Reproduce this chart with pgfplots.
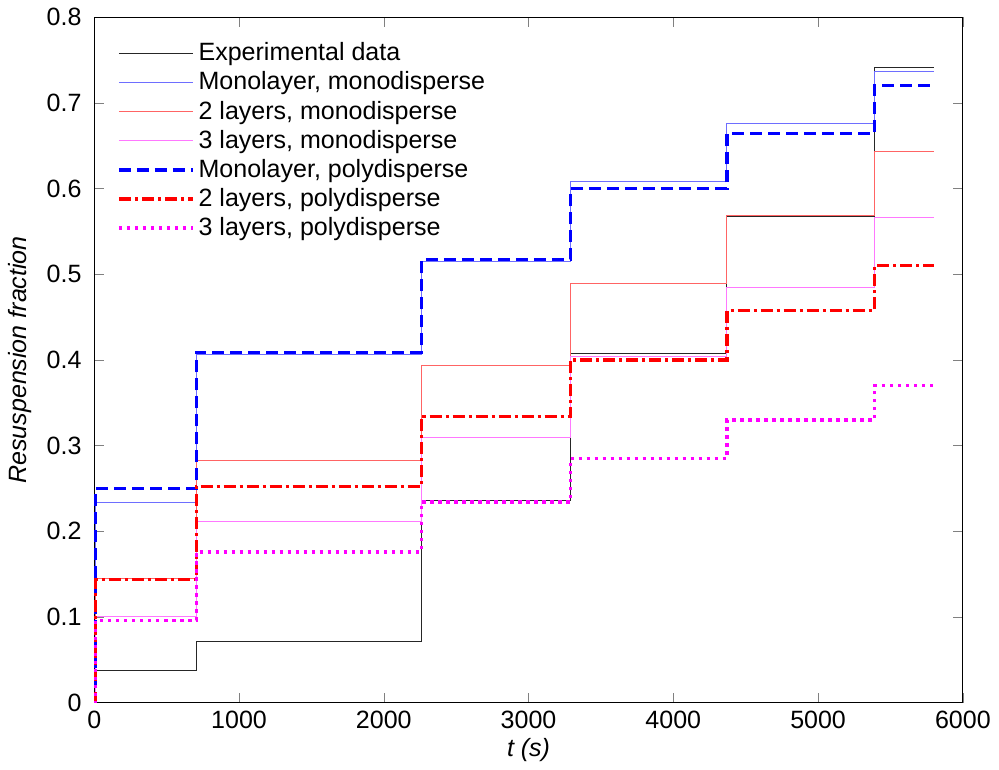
\documentclass[border=0pt]{standalone}
\usepackage{fontspec}
\setmainfont{Liberation Sans}
\usepackage{pgfplots}
\pgfplotsset{compat=1.18}
\usepackage{pgfplotstable}
\definecolor{mblue}{RGB}{0,0,255}
\definecolor{mred}{RGB}{255,0,0}
\definecolor{mmag}{RGB}{255,0,255}
\definecolor{lblue}{RGB}{110,110,255}
\definecolor{lred}{RGB}{255,100,100}
\definecolor{lmag}{RGB}{255,120,255}
\pgfplotstableread{
t v
0 0
10 0.038
705 0.071
2260 0.236
3290 0.407
4370 0.568
5390 0.741
5800 0.741
}\expdata
\pgfplotstableread{
t v
0 0
10 0.234
705 0.406
2260 0.515
3290 0.608
4370 0.676
5390 0.737
5800 0.737
}\monomono
\pgfplotstableread{
t v
0 0
10 0.145
705 0.283
2260 0.393
3290 0.489
4370 0.568
5390 0.643
5800 0.643
}\twomono
\pgfplotstableread{
t v
0 0
10 0.101
705 0.211
2260 0.309
3290 0.404
4370 0.484
5390 0.566
5800 0.566
}\threemono
\pgfplotstableread{
t v
0 0
10 0.250
705 0.409
2260 0.517
3290 0.600
4370 0.664
5390 0.720
5800 0.720
}\monopoly
\pgfplotstableread{
t v
0 0
10 0.144
705 0.252
2260 0.334
3290 0.400
4370 0.458
5390 0.510
5800 0.510
}\twopoly
\pgfplotstableread{
t v
0 0
10 0.096
705 0.176
2260 0.234
3290 0.285
4370 0.330
5390 0.370
5800 0.370
}\threepoly
\begin{document}
\fontsize{12.5}{15}\selectfont
\begin{tikzpicture}
\begin{axis}[
  scale only axis,
  width=434pt, height=342.5pt,
  xmin=0, xmax=6000, ymin=0, ymax=0.8,
  xtick={0,1000,...,6000},
  ytick={0,0.1,...,0.8},
  tick align=inside,
  major tick length=5pt,
  minor tick num=0,
  xticklabel style={/pgf/number format/set thousands separator={}},
  yticklabel style={/pgf/number format/fixed,/pgf/number format/precision=1, xshift=-2pt},
  /pgf/number format/assume math mode=true,
  ticklabel style={font=\fontsize{12.5}{15}\selectfont},
  xlabel={\textit{t (s)}},
  ylabel={\textit{Resuspension fraction}},
  label style={font=\fontsize{12.5}{15}\selectfont},
  xlabel style={yshift=4pt},
  ylabel style={yshift=-1pt},
  legend style={at={(0.019,0.975)}, anchor=north west, draw=none, fill=none,
    font=\fontsize{12.5}{14.7}\selectfont, row sep=-0.4pt,
    /tikz/every even column/.append style={column sep=2pt}},
  legend cell align=left,
  legend image code/.code={\draw[#1] (0pt,0pt) -- (37pt,0pt);},
  const plot,
]
\addplot[black!85, line width=0.45pt] table[x=t,y=v] {\expdata};
\addlegendentry{Experimental data}
\addplot[lblue, line width=0.5pt] table[x=t,y=v] {\monomono};
\addlegendentry{Monolayer, monodisperse}
\addplot[lred, line width=0.5pt] table[x=t,y=v] {\twomono};
\addlegendentry{2 layers, monodisperse}
\addplot[lmag, line width=0.5pt] table[x=t,y=v] {\threemono};
\addlegendentry{3 layers, monodisperse}
\addplot[mblue, line width=1.7pt, dash pattern=on 6pt off 3pt] table[x=t,y=v] {\monopoly};
\addlegendentry{Monolayer, polydisperse}
\addplot[mred, line width=1.7pt, dash pattern=on 6pt off 2pt on 1.5pt off 2pt] table[x=t,y=v] {\twopoly};
\addlegendentry{2 layers, polydisperse}
\addplot[mmag, line width=1.7pt, dash pattern=on 1.7pt off 2.3pt] table[x=t,y=v] {\threepoly};
\addlegendentry{3 layers, polydisperse}
\end{axis}
\end{tikzpicture}
\end{document}
